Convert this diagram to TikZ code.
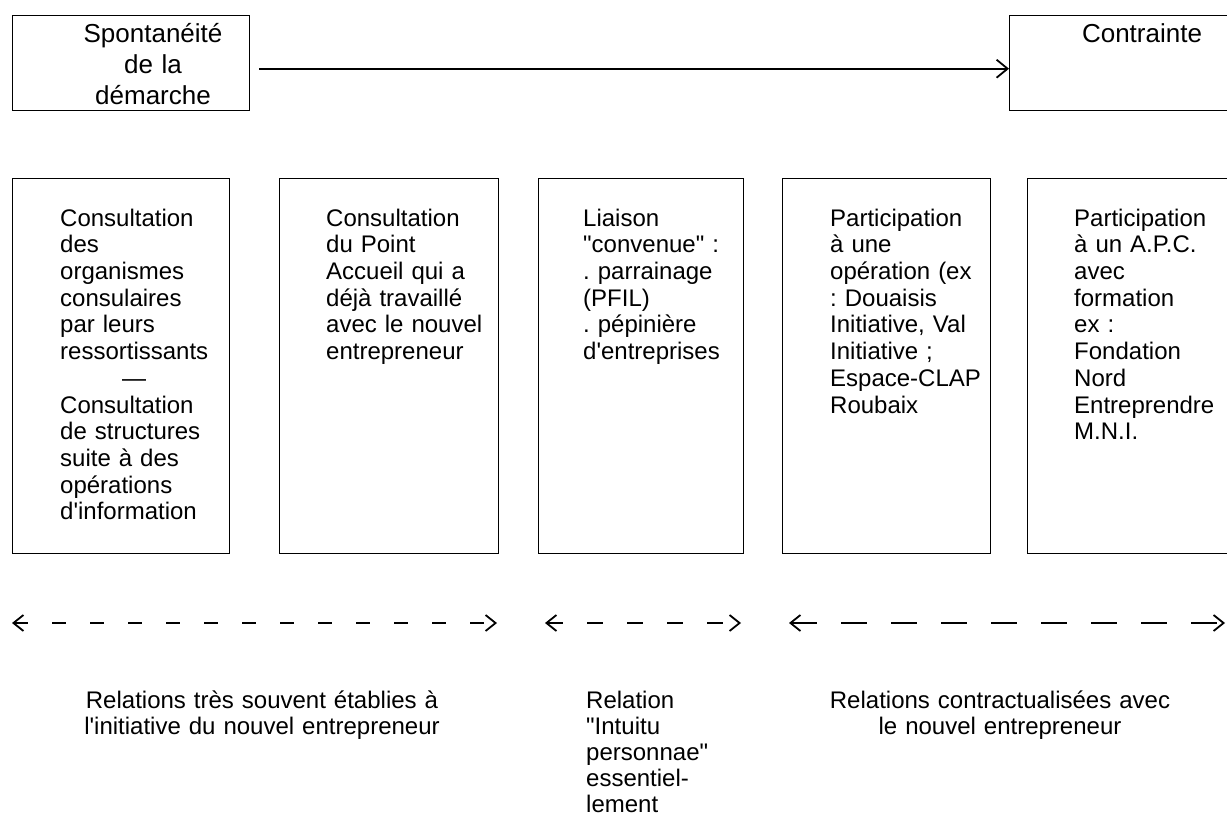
\documentclass[tikz,border=0pt]{standalone}
\usepackage{fontspec}
\setmainfont{Liberation Sans}[Ligatures=TeXOff]
\usetikzlibrary{arrows.meta,calc}

\begin{document}
\frenchspacing
\begin{tikzpicture}[x=1pt,y=-1pt,
  frame/.style={draw=black,line width=1.4pt,inner sep=0pt,anchor=north west},
  boxtext/.style={anchor=north west,inner sep=0pt,text width=172pt,align=left,
    font=\fontsize{24}{26.7}\selectfont,execute at begin node=\strut},
  headtext/.style={anchor=north,inner sep=0pt,text width=170pt,align=center,
    font=\fontsize{26}{31}\selectfont,execute at begin node=\strut},
  labeltext/.style={inner sep=0pt,font=\fontsize{24}{26}\selectfont,
    execute at begin node=\strut},
  scalearrow/.style={line width=1.8pt,-{Straight Barb[length=11pt,width=18pt]}},
  relation/.style={line width=1.8pt,
    {Straight Barb[length=10pt,width=16pt]}-{Straight Barb[length=10pt,width=16pt]}}
]
% page frame
\useasboundingbox[fill=white] (0,0) rectangle (1227,816);

% scale of the approach: from spontaneous to constrained
\node[frame,minimum width=237pt,minimum height=95pt] (sp) at (12,15) {};
\node[frame,minimum width=230pt,minimum height=95pt] (ct) at (1009,15) {};
\node[headtext] (sptext) at ($(sp.north west)+(141,5.3)$) {Spontanéité\\de la\\démarche};
\node[headtext] (cttext) at ($(ct.north west)+(133,5.3)$) {Contrainte};
\draw[scalearrow] ($(sp.east)+(9,5.5)$) -- ($(ct.west)+(0,5.5)$);

% the five kinds of relation
\node[frame,minimum width=217pt,minimum height=375pt] (b1) at (12,178) {};
\node[frame,minimum width=219pt,minimum height=375pt] (b2) at (279,178) {};
\node[frame,minimum width=205pt,minimum height=375pt] (b3) at (538,178) {};
\node[frame,minimum width=208pt,minimum height=375pt] (b4) at (782,178) {};
\node[frame,minimum width=213pt,minimum height=375pt] (b5) at (1027,178) {};

\node[boxtext] (t1) at ($(b1.north west)+(48,29.3)$)
  {Consultation\\des\\organismes\\consulaires\\par leurs\\ressortissants\\
   \makebox[148pt]{—}\\Consultation\\de structures\\suite à des\\opérations\\d'information};
\node[boxtext] (t2) at ($(b2.north west)+(47,29.3)$)
  {Consultation\\du Point\\Accueil qui a\\déjà travaillé\\avec le nouvel\\entrepreneur};
\node[boxtext] (t3) at ($(b3.north west)+(45,29.3)$)
  {Liaison\\"convenue" :\\. parrainage\\(PFIL)\\. pépinière\\d'entreprises};
\node[boxtext] (t4) at ($(b4.north west)+(48,29.3)$)
  {Participation\\à une\\opération (ex\\: Douaisis\\Initiative, Val\\Initiative ;\\Espace-CLAP\\Roubaix};
\node[boxtext] (t5) at ($(b5.north west)+(47,29.3)$)
  {Participation\\à un A.P.C.\\avec\\formation\\ex :\\Fondation\\Nord\\Entreprendre\\M.N.I.};

% spans of the relations
\coordinate (r1a) at (12,623);
\coordinate (r1b) at (497,623);
\coordinate (r2a) at (545,623);
\coordinate (r2b) at (741,623);
\coordinate (r3a) at (789,623);
\coordinate (r3b) at (1225,623);
\draw[relation,dash pattern=on 14pt off 24pt] (r1a) -- (r1b);
\draw[relation,dash pattern=on 16pt off 24pt] (r2a) -- (r2b);
\draw[relation,dash pattern=on 26pt off 24pt] (r3a) -- (r3b);

\node[labeltext,anchor=north,text width=380pt,align=center] (l1) at (262,689.8)
  {Relations très souvent établies à\\l'initiative du nouvel entrepreneur};
\node[labeltext,anchor=north west,text width=140pt,align=left] (l2) at (586,689.8)
  {Relation\\"Intuitu\\personnae"\\essentiel-\\lement};
\node[labeltext,anchor=north,text width=380pt,align=center] (l3) at (1000,689.8)
  {Relations contractualisées avec\\le nouvel entrepreneur};
\end{tikzpicture}
\end{document}
